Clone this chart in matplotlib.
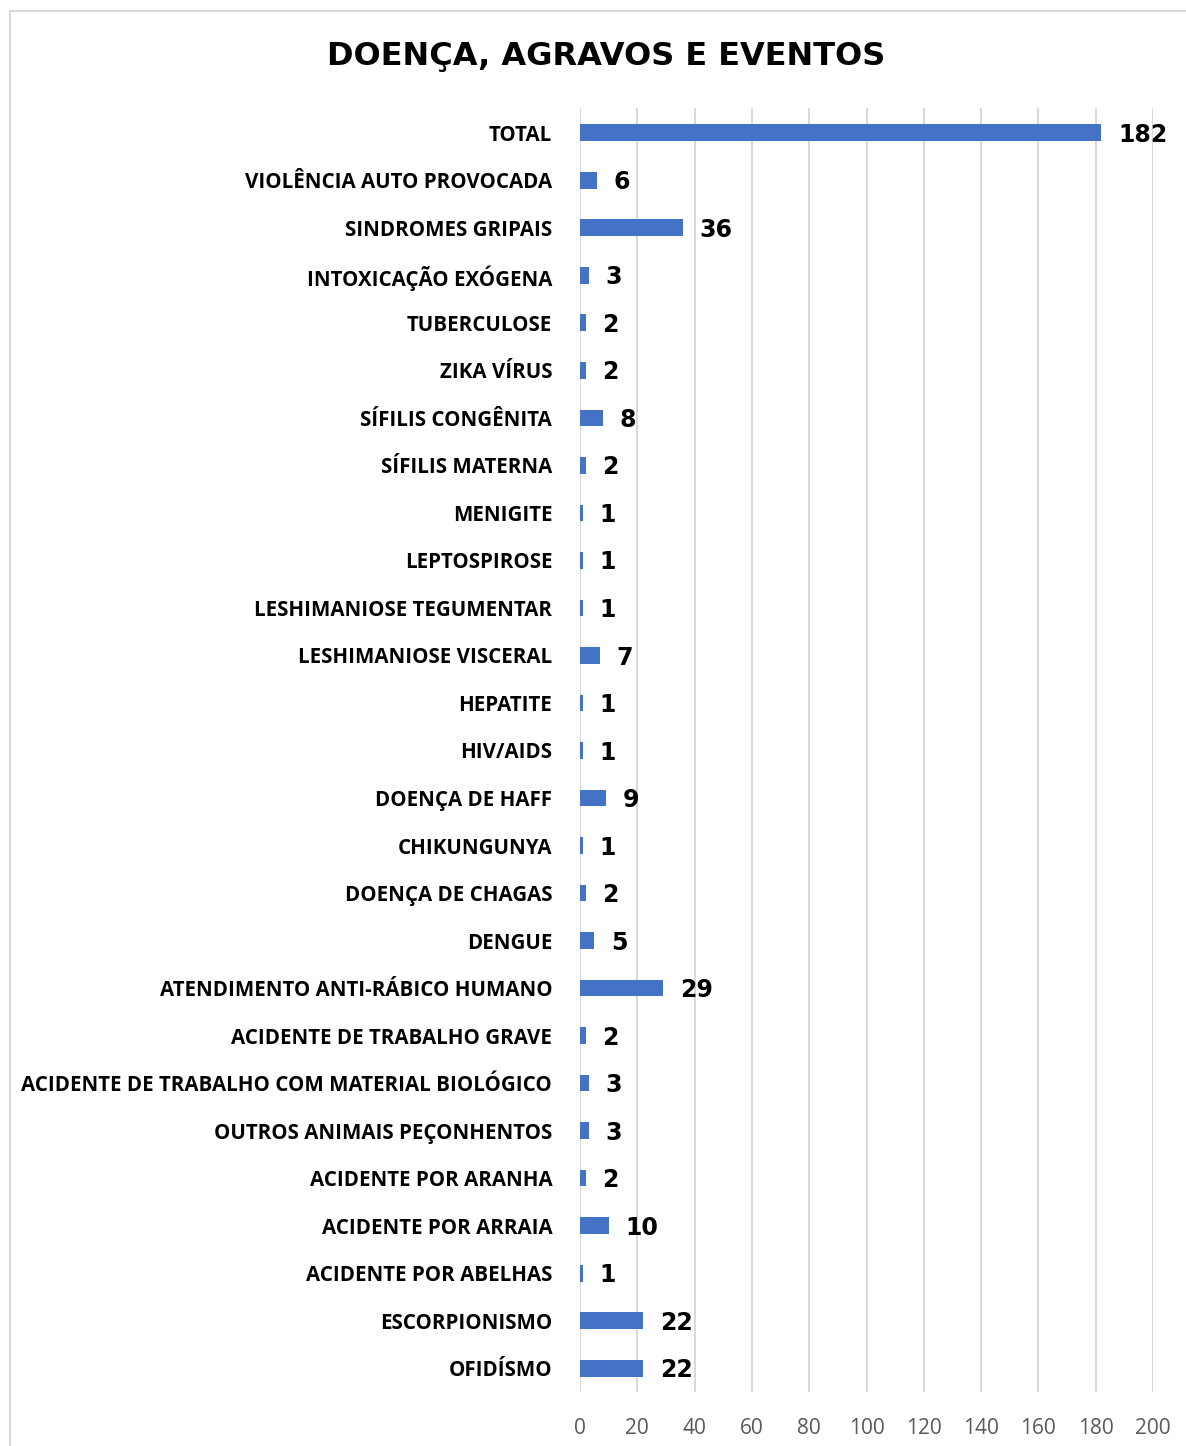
import matplotlib
matplotlib.use("Agg")
import matplotlib.pyplot as plt
from matplotlib.patches import Rectangle

categories = [
    "TOTAL", "VIOLÊNCIA AUTO PROVOCADA", "SINDROMES GRIPAIS", "INTOXICAÇÃO EXÓGENA",
    "TUBERCULOSE", "ZIKA VÍRUS", "SÍFILIS CONGÊNITA", "SÍFILIS MATERNA", "MENIGITE",
    "LEPTOSPIROSE", "LESHIMANIOSE TEGUMENTAR", "LESHIMANIOSE VISCERAL", "HEPATITE",
    "HIV/AIDS", "DOENÇA DE HAFF", "CHIKUNGUNYA", "DOENÇA DE CHAGAS", "DENGUE",
    "ATENDIMENTO ANTI-RÁBICO HUMANO", "ACIDENTE DE TRABALHO GRAVE",
    "ACIDENTE DE TRABALHO COM MATERIAL BIOLÓGICO", "OUTROS ANIMAIS PEÇONHENTOS",
    "ACIDENTE POR ARANHA", "ACIDENTE POR ARRAIA", "ACIDENTE POR ABELHAS",
    "ESCORPIONISMO", "OFIDÍSMO",
]
values = [182, 6, 36, 3, 2, 2, 8, 2, 1, 1, 1, 7, 1, 1, 9, 1, 2, 5, 29, 2, 3, 3, 2, 10, 1, 22, 22]
x_ticks = [0, 20, 40, 60, 80, 100, 120, 140, 160, 180, 200]

W, H = 1186, 1446
fig = plt.figure(figsize=(W / 100, H / 100), dpi=100)
fig.patches.append(Rectangle((10 / W, -0.01), 1.2, (H - 11) / H + 0.01,
                             transform=fig.transFigure, fill=False,
                             edgecolor="#D9D9D9", linewidth=1.5))

ax = fig.add_axes([580 / W, 54 / H, (1153 - 580) / W, (1392 - 108) / H])
ypos = list(range(len(categories)))
ax.barh(ypos, values, height=0.35, color="#4472C4", zorder=3)
ax.set_ylim(len(categories) - 0.5 + 0.0, -0.52)
ax.set_xlim(0, 200)
ax.set_xticks(x_ticks)
ax.set_xticklabels([str(t) for t in x_ticks], fontsize=15, color="#595959", family="Open Sans")
ax.set_yticks(ypos)
ax.set_yticklabels(categories, fontsize=14.8, fontweight="bold", family="Open Sans", color="black")
ax.tick_params(axis="y", length=0, pad=20)
ax.tick_params(axis="x", length=0, pad=19)
ax.grid(axis="x", color="#D9D9D9", linewidth=1.5, zorder=0)
for s in ax.spines.values():
    s.set_visible(False)

for y, v in zip(ypos, values):
    ax.annotate(str(v), xy=(v, y), xytext=(12, -1.5), textcoords="offset points",
                ha="left", va="center", fontsize=17, fontweight="bold",
                family="DejaVu Sans", color="black")

fig.text(606 / W, 1 - 57 / H, "DOENÇA, AGRAVOS E EVENTOS", ha="center", va="center",
         fontsize=23, fontweight="bold", family="DejaVu Sans", color="black")

fig.savefig("out.png", dpi=100)
